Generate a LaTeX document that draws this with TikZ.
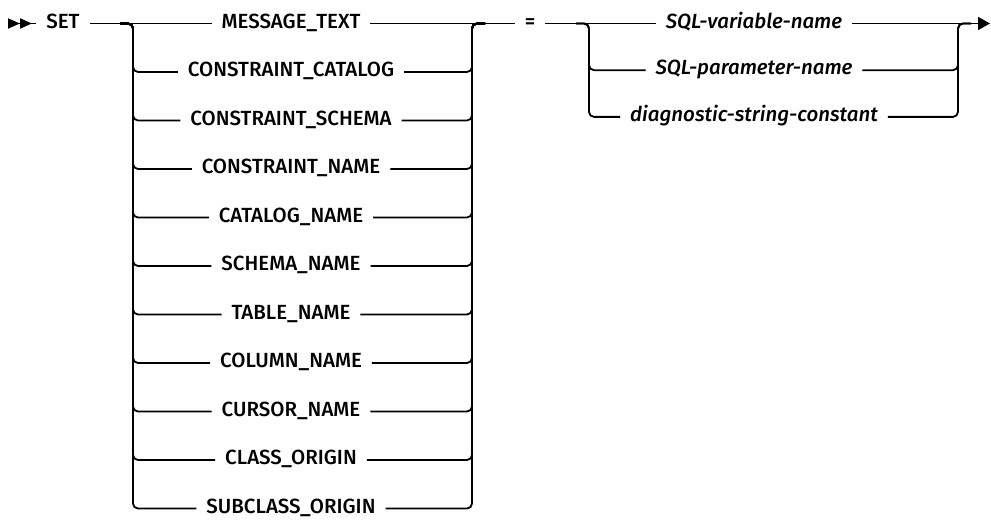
\documentclass[tikz,border=0pt]{standalone}
\usepackage{fontspec}
\setmainfont{Fira Sans}[UprightFont=* Medium, ItalicFont=* Medium Italic]
\usepackage{tikz}
\usetikzlibrary{arrows.meta, positioning}

\begin{document}
\begin{tikzpicture}[x=1pt, y=-1pt, node distance=24.5pt, line width=1.8pt, font=\fontsize{20.5}{23}\selectfont,
  kw/.style={inner xsep=10pt, inner ysep=0pt, outer sep=0pt, minimum height=24pt, text height=13.5pt, text depth=4pt},
  var/.style={kw, font=\fontsize{20.5}{23}\selectfont\itshape},
  rail/.style={rounded corners=5pt}]
  \useasboundingbox (0,0) rectangle (991,521);
  \coordinate (start) at (8,23.5);
  \coordinate (stop) at (990,23.5);
  \coordinate (lin) at (120,23.5);
  \coordinate (lrail) at (133,23.5);
  \coordinate (rrail) at (472,23.5);
  \coordinate (rout) at (485,23.5);
  \coordinate (vin) at (576,23.5);
  \coordinate (vrail) at (589,23.5);
  \coordinate (wrail) at (958,23.5);
  \coordinate (wout) at (971,23.5);
  \node[kw] (set) at (63,23.5) {SET};
  \node[kw] (msg) at (291,23.5) {MESSAGE\_TEXT};
  \node[kw, below=of msg] (ccat) {CONSTRAINT\_CATALOG};
  \node[kw, below=of ccat] (csch) {CONSTRAINT\_SCHEMA};
  \node[kw, below=of csch] (cnam) {CONSTRAINT\_NAME};
  \node[kw, below=of cnam] (cat) {CATALOG\_NAME};
  \node[kw, below=of cat] (sch) {SCHEMA\_NAME};
  \node[kw, below=of sch] (tab) {TABLE\_NAME};
  \node[kw, below=of tab] (col) {COLUMN\_NAME};
  \node[kw, below=of col] (cur) {CURSOR\_NAME};
  \node[kw, below=of cur] (cls) {CLASS\_ORIGIN};
  \node[kw, below=of cls] (sub) {SUBCLASS\_ORIGIN};
  \node[kw] (eq) at (530,23.5) {=};
  \node[var] (svar) at (754,23.5) {SQL-variable-name};
  \node[var, below=22.7pt of svar] (spar) {SQL-parameter-name};
  \node[var, below=22.7pt of spar] (diag) {diagnostic-string-constant};
  \draw[{Triangle[reversed, length=12pt, width=10pt]Triangle[reversed, length=12pt, width=10pt]}-] (start) -- (set);
  \draw (set) -- (msg);
  \draw (msg) -- (eq);
  \draw (eq) -- (svar);
  \draw[-{Triangle[length=12pt, width=13pt]}] (svar) -- (stop);
  \draw[rail] (lin) -| (lrail |- ccat) -- (ccat);
  \draw[rail] (lin) -| (lrail |- csch) -- (csch);
  \draw[rail] (lin) -| (lrail |- cnam) -- (cnam);
  \draw[rail] (lin) -| (lrail |- cat) -- (cat);
  \draw[rail] (lin) -| (lrail |- sch) -- (sch);
  \draw[rail] (lin) -| (lrail |- tab) -- (tab);
  \draw[rail] (lin) -| (lrail |- col) -- (col);
  \draw[rail] (lin) -| (lrail |- cur) -- (cur);
  \draw[rail] (lin) -| (lrail |- cls) -- (cls);
  \draw[rail] (lin) -| (lrail |- sub) -- (sub);
  \draw[rail] (ccat) -- (rrail |- ccat) |- (rout);
  \draw[rail] (csch) -- (rrail |- csch) |- (rout);
  \draw[rail] (cnam) -- (rrail |- cnam) |- (rout);
  \draw[rail] (cat) -- (rrail |- cat) |- (rout);
  \draw[rail] (sch) -- (rrail |- sch) |- (rout);
  \draw[rail] (tab) -- (rrail |- tab) |- (rout);
  \draw[rail] (col) -- (rrail |- col) |- (rout);
  \draw[rail] (cur) -- (rrail |- cur) |- (rout);
  \draw[rail] (cls) -- (rrail |- cls) |- (rout);
  \draw[rail] (sub) -- (rrail |- sub) |- (rout);
  \draw[rail] (vin) -| (vrail |- spar) -- (spar);
  \draw[rail] (vin) -| (vrail |- diag) -- (diag);
  \draw[rail] (spar) -- (wrail |- spar) |- (wout);
  \draw[rail] (diag) -- (wrail |- diag) |- (wout);
\end{tikzpicture}
\end{document}
